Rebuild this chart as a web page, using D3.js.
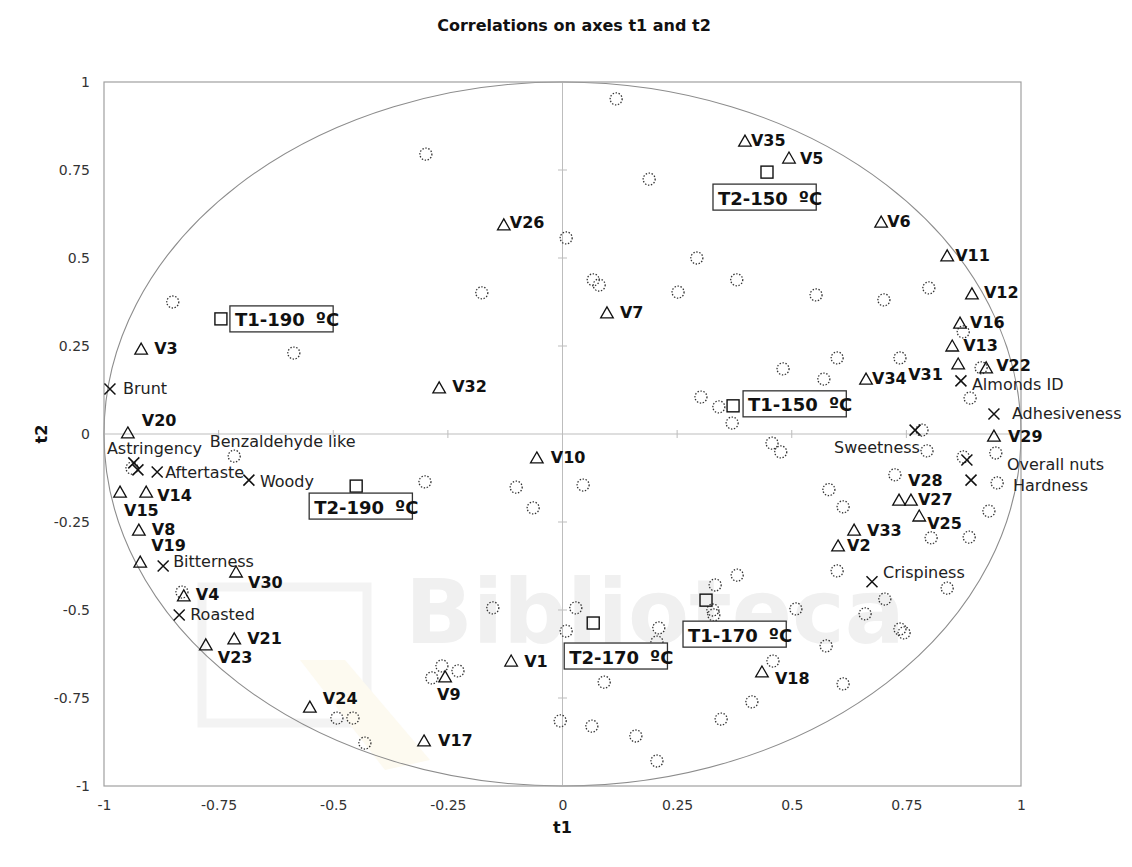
<!DOCTYPE html>
<html>
<head>
<meta charset="utf-8">
<script src="https://cdn.jsdelivr.net/npm/d3@7"></script>
<style>
  body { margin: 0; background: #fff; }
  svg { display: block; font-family: "DejaVu Sans", Verdana, sans-serif; }
</style>
</head>
<body>
<svg id="chart" width="1132" height="867"></svg>
<script>
// ---- Variables (triangles) ----
const variableNames = ["V1","V2","V3","V4","V5","V6","V7","V8","V9","V10",
  "V11","V12","V13","V14","V15","V16","V17","V18","V19","V20",
  "V21","V22","V23","V24","V25","V26","V27","V28","V29","V30",
  "V31","V32","V33","V34","V35"];
const variableT1 = [-0.112, 0.601, -0.919, -0.826, 0.494, 0.695, 0.097, -0.924, -0.256, -0.056,
  0.839, 0.893, 0.850, -0.908, -0.965, 0.867, -0.302, 0.435, -0.921, -0.948,
  -0.716, 0.924, -0.778, -0.551, 0.778, -0.128, 0.760, 0.734, 0.941, -0.712,
  0.863, -0.269, 0.636, 0.662, 0.398];
const variableT2 = [-0.645, -0.318, 0.241, -0.460, 0.784, 0.602, 0.344, -0.273, -0.690, -0.068,
  0.506, 0.398, 0.250, -0.165, -0.165, 0.315, -0.872, -0.676, -0.364, 0.003,
  -0.582, 0.188, -0.599, -0.776, -0.233, 0.594, -0.188, -0.188, -0.006, -0.392,
  0.199, 0.131, -0.273, 0.156, 0.832];

// ---- Sensory attributes (crosses) ----
const attributeNames = ["Brunt","Benzaldehyde like","Astringency","Aftertaste","Woody",
  "Bitterness","Roasted","Almonds ID","Adhesiveness","Sweetness","Overall nuts",
  "Hardness","Crispiness"];
const attributeT1 = [-0.987, -0.935, -0.926, -0.884, -0.684, -0.871, -0.836, 0.869, 0.941, 0.769, 0.882, 0.891, 0.675];
const attributeT2 = [0.128, -0.082, -0.102, -0.108, -0.131, -0.375, -0.514, 0.151, 0.057, 0.011, -0.074, -0.131, -0.420];

// ---- Roasting treatments (squares) ----
const treatmentNames = ["T1-190", "T2-190", "T1-150", "T2-150", "T1-170", "T2-170"];
const treatmentUnit = "ºC";
const treatmentT1 = [-0.745, -0.450, 0.372, 0.446, 0.313, 0.067];
const treatmentT2 = [0.327, -0.148, 0.080, 0.744, -0.472, -0.537];

// ---- Supplementary observations (dotted circles) ----
const observationT1 = [0.117, -0.298, 0.189, 0.008, 0.293, 0.067, 0.080, 0.252, 0.380, 0.553,
  0.701, 0.799, -0.176, -0.850, -0.586, 0.302, 0.341, 0.370, 0.481, 0.570,
  0.599, 0.736, 0.874, 0.913, 0.889, 0.457, 0.476, 0.784, 0.795, 0.874,
  0.945, 0.725, 0.948, 0.581, 0.612, 0.930, 0.804, 0.887, -0.101, -0.064,
  0.045, -0.716, -0.300, 0.599, 0.839, 0.703, 0.509, 0.660, 0.736, 0.745,
  0.575, 0.612, -0.152, 0.029, 0.008, 0.210, 0.206, 0.333, 0.381, 0.328,
  0.330, 0.459, 0.091, 0.413, -0.005, 0.064, 0.160, 0.346, 0.206, -0.228,
  -0.263, -0.285, -0.492, -0.457, -0.431, -0.830, -0.939];
const observationT2 = [0.952, 0.795, 0.724, 0.557, 0.500, 0.438, 0.423, 0.403, 0.438, 0.395,
  0.381, 0.415, 0.401, 0.375, 0.230, 0.105, 0.077, 0.031, 0.185, 0.156,
  0.216, 0.216, 0.290, 0.188, 0.102, -0.026, -0.051, 0.011, -0.048, -0.065,
  -0.054, -0.116, -0.139, -0.158, -0.207, -0.219, -0.295, -0.293, -0.151, -0.210,
  -0.145, -0.063, -0.136, -0.389, -0.438, -0.469, -0.497, -0.511, -0.554, -0.565,
  -0.602, -0.710, -0.494, -0.494, -0.560, -0.551, -0.591, -0.429, -0.401, -0.500,
  -0.514, -0.645, -0.705, -0.761, -0.815, -0.830, -0.858, -0.810, -0.929, -0.673,
  -0.659, -0.693, -0.807, -0.807, -0.878, -0.449, -0.097];

// ---- Axis ticks ----
const tickValues = [-1, -0.75, -0.5, -0.25, 0, 0.25, 0.5, 0.75, 1];
const tickLabels = ["-1", "-0.75", "-0.5", "-0.25", "0", "0.25", "0.5", "0.75", "1"];

const chartTitle = "Correlations on axes t1 and t2";
const xTitle = "t1";
const yTitle = "t2";

// ---- Label placement (pixel offsets from each marker) ----
const labelOffset = {
  V1:[13,0], V2:[9,0], V3:[13,-1], V4:[12,-1], V5:[11,0], V6:[6,-1], V7:[13,0],
  V8:[13,-1], V9:[-8,18], V10:[14,0], V11:[8,0], V12:[12,-1], V13:[11,-1],
  V14:[11,3], V15:[4,18], V16:[10,-1], V17:[14,0], V18:[13,7], V19:[11,-17],
  V20:[14,-12], V21:[13,0], V22:[10,-2], V23:[12,13], V24:[13,-9], V25:[8,7],
  V26:[6,-2], V27:[7,-1], V28:[9,-20], V29:[14,0], V30:[12,11], V31:[-50,11],
  V32:[13,-1], V33:[13,0], V34:[6,-1], V35:[6,-1],
  "Brunt":[13,0], "Benzaldehyde like":[76,-21], "Astringency":[-31,-21],
  "Aftertaste":[8,0], "Woody":[11,1], "Bitterness":[10,-5], "Roasted":[11,0],
  "Almonds ID":[11,4], "Adhesiveness":[18,0], "Sweetness":[-81,17],
  "Overall nuts":[40,4], "Hardness":[42,5], "Crispiness":[11,-9]
};
// box corner (left, top) relative to each treatment square
const boxOffset = {
  "T1-190":[9,-13], "T2-190":[-47,7], "T1-150":[10,-15],
  "T2-150":[-54,12], "T1-170":[-23,21], "T2-170":[-29,20]
};

const svg = d3.select("#chart");
const W = 1132, H = 867;
const plot = { left: 104, right: 1021, top: 82, bottom: 786 };

const x = d3.scaleLinear().domain([-1, 1]).range([plot.left, plot.right]);
const y = d3.scaleLinear().domain([-1, 1]).range([plot.bottom, plot.top]);

svg.append("rect").attr("width", W).attr("height", H).attr("fill", "#fff");

// faint library watermark behind the plot
const wm = svg.append("g").attr("pointer-events", "none");
wm.append("rect").attr("x", 202).attr("y", 587).attr("width", 165).attr("height", 136)
  .attr("fill", "none").attr("stroke", "#f3f3f3").attr("stroke-width", 9);
wm.append("path").attr("d", "M300,660 L345,660 L430,760 L385,770 Z")
  .attr("fill", "#fdfaf0");
wm.append("text").attr("x", 405).attr("y", 643)
  .attr("font-size", 89).attr("font-weight", "bold").attr("fill", "#f0f0f0")
  .text("Biblioteca");

// title
svg.append("text").attr("x", 574).attr("y", 31)
  .attr("text-anchor", "middle").attr("font-size", 16).attr("font-weight", "bold")
  .attr("fill", "#111").text(chartTitle);

// unit circle
svg.append("ellipse")
  .attr("cx", x(0)).attr("cy", y(0))
  .attr("rx", x(1) - x(0)).attr("ry", y(0) - y(1))
  .attr("fill", "none").attr("stroke", "#8c8c8c").attr("stroke-width", 1.1);

// zero axes with inner ticks
const axisColor = "#bdbdbd";
svg.append("line").attr("x1", x(-1)).attr("x2", x(1)).attr("y1", y(0)).attr("y2", y(0))
  .attr("stroke", axisColor).attr("stroke-width", 1);
svg.append("line").attr("x1", x(0)).attr("x2", x(0)).attr("y1", y(-1)).attr("y2", y(1))
  .attr("stroke", axisColor).attr("stroke-width", 1);
const inner = tickValues.filter(v => v !== 0 && Math.abs(v) !== 1);
svg.selectAll(".xt").data(inner).enter().append("line")
  .attr("x1", d => x(d)).attr("x2", d => x(d))
  .attr("y1", y(0) - 4).attr("y2", y(0) + 4)
  .attr("stroke", axisColor);
svg.selectAll(".yt").data(inner).enter().append("line")
  .attr("y1", d => y(d)).attr("y2", d => y(d))
  .attr("x1", x(0) - 4.5).attr("x2", x(0) + 4.5)
  .attr("stroke", axisColor);

// frame
svg.append("rect").attr("x", plot.left).attr("y", plot.top)
  .attr("width", plot.right - plot.left).attr("height", plot.bottom - plot.top)
  .attr("fill", "none").attr("stroke", "#a0a0a0").attr("stroke-width", 1.2);

// tick labels via d3 axes
const fmt = d => tickLabels[tickValues.indexOf(d)];
const gx = svg.append("g").attr("transform", `translate(0,${plot.bottom})`)
  .call(d3.axisBottom(x).tickValues(tickValues).tickFormat(fmt).tickSize(0).tickPadding(14));
const gy = svg.append("g").attr("transform", `translate(${plot.left},0)`)
  .call(d3.axisLeft(y).tickValues(tickValues).tickFormat(fmt).tickSize(0).tickPadding(14));
[gx, gy].forEach(g => {
  g.select(".domain").remove();
  g.selectAll("text").attr("font-size", 14).attr("fill", "#333")
    .attr("font-family", "DejaVu Sans, Verdana, sans-serif");
});

// axis titles
svg.append("text").attr("x", x(0)).attr("y", 833).attr("text-anchor", "middle")
  .attr("font-size", 16).attr("font-weight", "bold").attr("fill", "#111").text(xTitle);
svg.append("text").attr("transform", `translate(47,${y(0)}) rotate(-90)`)
  .attr("text-anchor", "middle").attr("font-size", 16).attr("font-weight", "bold")
  .attr("fill", "#111").text(yTitle);

// observations
const observations = observationT1.map((v, i) => ({ t1: v, t2: observationT2[i] }));
svg.append("g").selectAll("circle").data(observations).enter().append("circle")
  .attr("cx", d => x(d.t1)).attr("cy", d => y(d.t2)).attr("r", 6)
  .attr("fill", "none").attr("stroke", "#333").attr("stroke-width", 1.3)
  .attr("stroke-dasharray", "1.4,1.6");

// variables
const variables = variableNames.map((n, i) => ({ name: n, t1: variableT1[i], t2: variableT2[i] }));
const gv = svg.append("g");
gv.selectAll("path").data(variables).enter().append("path")
  .attr("transform", d => `translate(${x(d.t1)},${y(d.t2)})`)
  .attr("d", "M0,-6 L6.3,5 L-6.3,5 Z")
  .attr("fill", "none").attr("stroke", "#111").attr("stroke-width", 1.3)
  .attr("stroke-linejoin", "miter");
gv.selectAll("text").data(variables).enter().append("text")
  .attr("x", d => x(d.t1) + labelOffset[d.name][0])
  .attr("y", d => y(d.t2) + labelOffset[d.name][1])
  .attr("dominant-baseline", "central")
  .attr("font-size", 16).attr("font-weight", "bold").attr("fill", "#111")
  .text(d => d.name);

// attributes
const attributes = attributeNames.map((n, i) => ({ name: n, t1: attributeT1[i], t2: attributeT2[i] }));
const ga = svg.append("g");
ga.selectAll("path").data(attributes).enter().append("path")
  .attr("transform", d => `translate(${x(d.t1)},${y(d.t2)})`)
  .attr("d", "M-5.5,-5.5 L5.5,5.5 M-5.5,5.5 L5.5,-5.5")
  .attr("fill", "none").attr("stroke", "#111").attr("stroke-width", 1.5);
ga.selectAll("text").data(attributes).enter().append("text")
  .attr("x", d => x(d.t1) + labelOffset[d.name][0])
  .attr("y", d => y(d.t2) + labelOffset[d.name][1])
  .attr("dominant-baseline", "central")
  .attr("font-size", 16).attr("fill", "#222")
  .text(d => d.name);

// treatments
const treatments = treatmentNames.map((n, i) => ({ name: n, t1: treatmentT1[i], t2: treatmentT2[i] }));
const gt = svg.append("g");
treatments.forEach(d => {
  const cx = x(d.t1), cy = y(d.t2);
  gt.append("rect").attr("x", cx - 6).attr("y", cy - 6).attr("width", 12).attr("height", 12)
    .attr("fill", "none").attr("stroke", "#111").attr("stroke-width", 1.4);
  const bx = cx + boxOffset[d.name][0], by = cy + boxOffset[d.name][1];
  const box = gt.append("rect").attr("x", bx).attr("y", by).attr("height", 26)
    .attr("fill", "#fff").attr("stroke", "#333").attr("stroke-width", 1.3);
  const t = gt.append("text").attr("x", bx + 5).attr("y", by + 13.5)
    .attr("dominant-baseline", "central")
    .attr("font-size", 18).attr("font-weight", "bold").attr("fill", "#111");
  t.append("tspan").text(d.name);
  t.append("tspan").attr("dx", 11).text(treatmentUnit);
  box.attr("width", t.node().getComputedTextLength() + 10);
});
</script>
</body>
</html>
